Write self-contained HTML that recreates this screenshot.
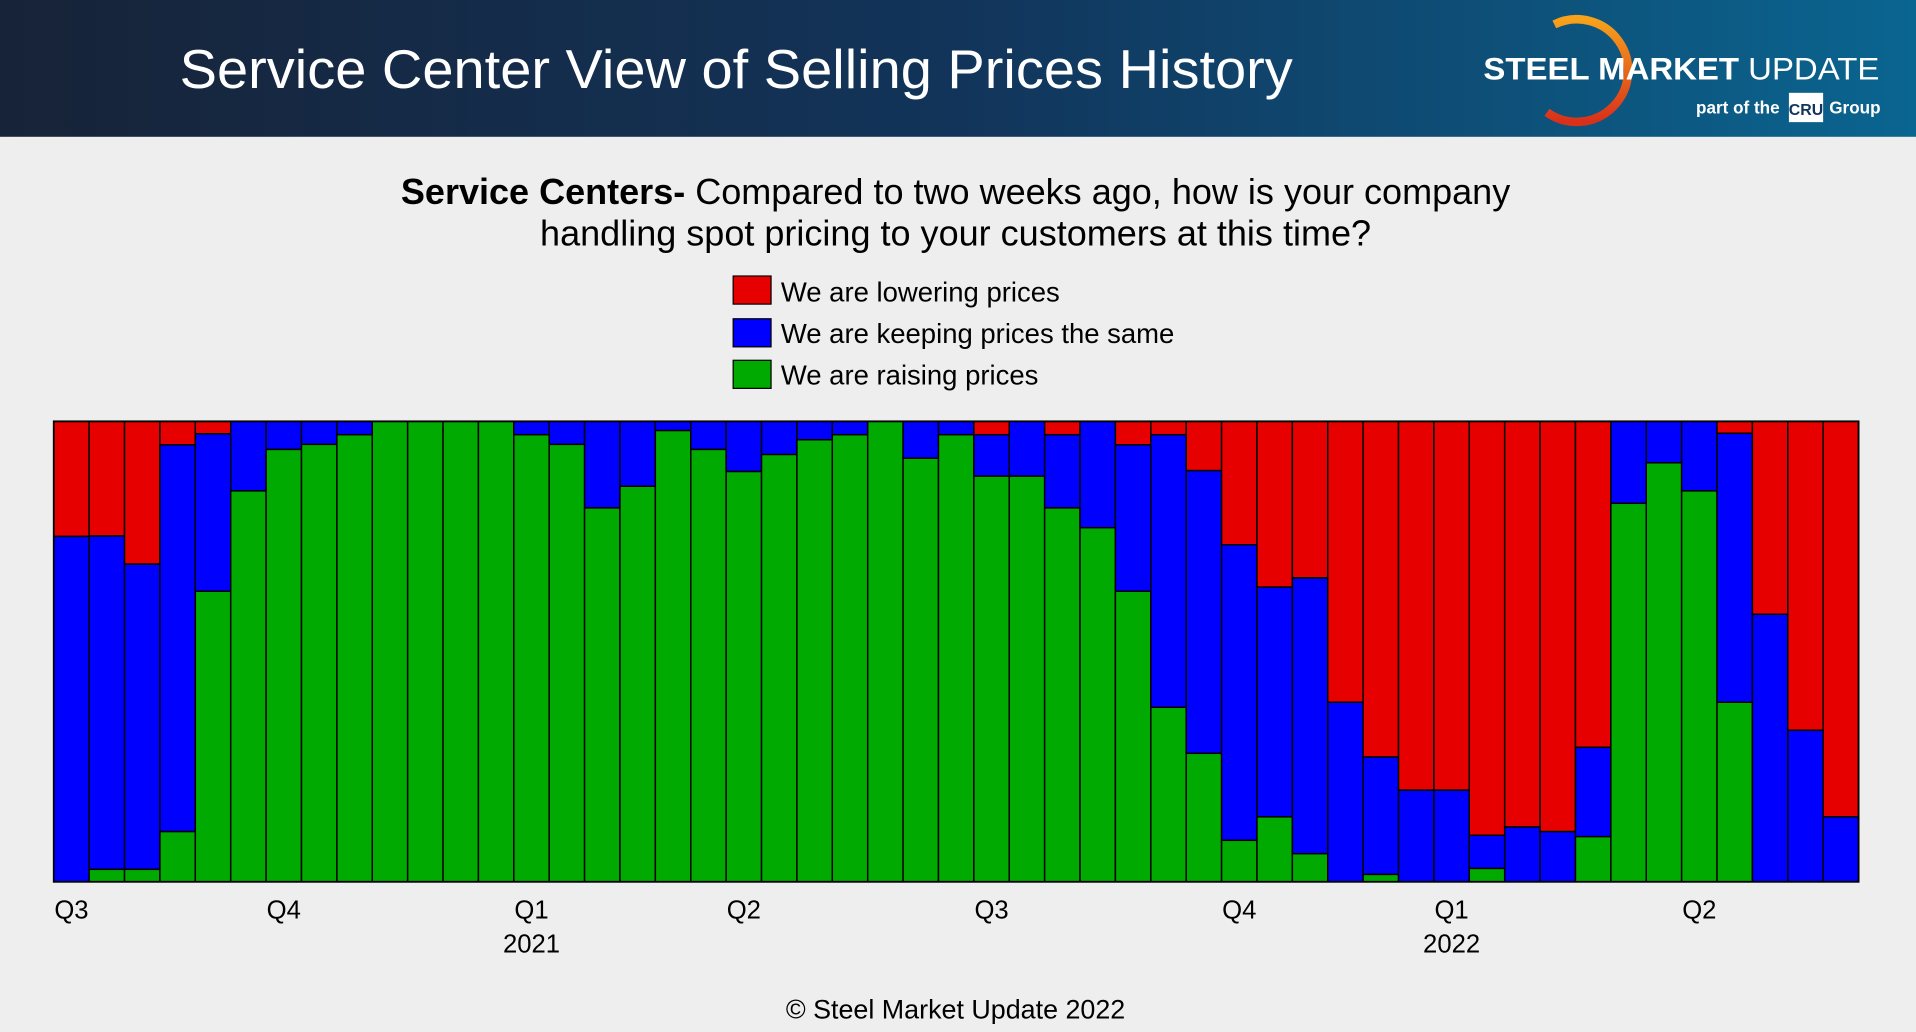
<!DOCTYPE html>
<html><head><meta charset="utf-8">
<style>
html,body{margin:0;padding:0;background:#eeeeee;}
svg{display:block;font-family:"Liberation Sans",Arial,sans-serif;}
</style></head>
<body>
<svg id="chart" width="1916" height="1032" viewBox="0 0 1568 845" preserveAspectRatio="none" xmlns="http://www.w3.org/2000/svg">
<defs>
<linearGradient id="hdr" x1="0" x2="1" y1="0" y2="0">
<stop offset="0" stop-color="#172338"/><stop offset="0.5" stop-color="#12345a"/><stop offset="1" stop-color="#0a6590"/>
</linearGradient>
<linearGradient id="swoosh" x1="0" x2="0" y1="0" y2="1">
<stop offset="0" stop-color="#f7a21b"/><stop offset="1" stop-color="#d9301a"/>
</linearGradient>
</defs>
<rect x="0" y="0" width="1568" height="845" fill="#eeeeee"/>
<rect x="0" y="0" width="1568" height="112" fill="url(#hdr)"/>
<text x="147" y="72" font-size="45" textLength="911" lengthAdjust="spacingAndGlyphs" fill="#ffffff">Service Center View of Selling Prices History</text>
<g>
<path d="M1272 20 A42 42 0 1 1 1266 92" fill="none" stroke="url(#swoosh)" stroke-width="7"/>
<text x="1214" y="65" font-size="26" font-weight="bold" fill="#fff" textLength="324" lengthAdjust="spacingAndGlyphs">STEEL MARKET <tspan font-weight="normal">UPDATE</tspan></text>
<text x="1388" y="93" font-size="14" font-weight="bold" fill="#fff">part of the</text>
<rect x="1464" y="76" width="28" height="24" fill="#fff"/>
<text x="1478" y="94" font-size="13" font-weight="bold" fill="#12345a" text-anchor="middle">CRU</text>
<text x="1497" y="93" font-size="14" font-weight="bold" fill="#fff">Group</text>
</g>
<text x="782" y="167" font-size="29.5" text-anchor="middle" fill="#000"><tspan font-weight="bold">Service Centers-</tspan> Compared to two weeks ago, how is your company</text>
<text x="782" y="201" font-size="29.5" text-anchor="middle" fill="#000">handling spot pricing to your customers at this time?</text>
<g>
<g><rect x="600" y="226" width="31" height="23" fill="#e60000" stroke="#000"/><text x="639" y="247" font-size="22.5">We are lowering prices</text></g>
<g><rect x="600" y="261" width="31" height="23" fill="#0000ff" stroke="#000"/><text x="639" y="281" font-size="22.5">We are keeping prices the same</text></g>
<g><rect x="600" y="295" width="31" height="23" fill="#00aa00" stroke="#000"/><text x="639" y="315" font-size="22.5">We are raising prices</text></g>
</g>
<g id="bars"></g>
<g id="axis"></g>
<text x="782" y="834" font-size="22" text-anchor="middle">© Steel Market Update 2022</text>
</svg>
<script>
const raising = [0,2.7,2.7,10.9,63.1,84.9,93.9,95,97.1,100,100,100,100,97.1,95,81.2,85.9,98,93.9,89.1,92.8,96,97.1,100,92,97.1,88.1,88.1,81.2,76.9,63.1,37.9,27.9,9,14.1,6.1,0,1.6,0,0,2.9,0,0,9.8,82.2,91,84.9,39,0,0,0];
const same = [75,72.4,66.3,84,34.2,15.1,6.1,5,2.9,0,0,0,0,2.9,5,18.8,14.1,2,6.1,10.9,7.2,4,2.9,0,8,2.9,9,11.9,15.9,23.1,31.8,59.2,61.4,64.2,49.9,59.9,39,25.5,19.9,19.9,7.2,11.9,10.9,19.4,17.8,9,15.1,58.4,58.1,32.9,14.1];
const tickIndex = [0,6,13,19,26,33,39,46];
const tickLabels = ["Q3","Q4","Q1","Q2","Q3","Q4","Q1","Q2"];
const yearIndex = [13,39];
const yearLabels = ["2021","2022"];

const X0=44,X1=1521,Y0=345,Y1=722;
const n=raising.length, bw=(X1-X0)/n;
const xs=i=>X0+i*bw;
const ys=p=>Y1-(p/100)*(Y1-Y0);
const NS="http://www.w3.org/2000/svg";
const g=document.getElementById('bars');
function rect(x,y,w,h,fill,name){
  const r=document.createElementNS(NS,'rect');
  r.setAttribute('x',x);r.setAttribute('y',y);r.setAttribute('width',w);r.setAttribute('height',Math.max(0,h));
  r.setAttribute('fill',fill);r.setAttribute('stroke','#000');r.setAttribute('stroke-width','1.2');
  
  
  g.appendChild(r);
}
for(let i=0;i<n;i++){
  const x=xs(i);
  const gt=ys(raising[i]), bt=ys(raising[i]+same[i]);
  rect(x,Y0,bw,bt-Y0,'#e60000','bar-lowering-'+i);
  if(same[i]>0) rect(x,bt,bw,gt-bt,'#0000ff','bar-same-'+i);
  if(raising[i]>0) rect(x,gt,bw,Y1-gt,'#00aa00','bar-raising-'+i);
}
const frame=document.createElementNS(NS,'rect');
frame.setAttribute('x',X0);frame.setAttribute('y',Y0);frame.setAttribute('width',X1-X0);frame.setAttribute('height',Y1-Y0);
frame.setAttribute('fill','none');frame.setAttribute('stroke','#000');frame.setAttribute('stroke-width','1.5');


g.appendChild(frame);
const ax=document.getElementById('axis');
function label(txt,i,y,name){
  const t=document.createElementNS(NS,'text');
  t.setAttribute('x',xs(i)+bw/2);t.setAttribute('y',y);t.setAttribute('font-size','21');t.setAttribute('text-anchor','middle');
  t.textContent=txt;
  
  
  ax.appendChild(t);
}
tickIndex.forEach((ix,k)=>label(tickLabels[k],ix,752,'x-tick-label'));
yearIndex.forEach((ix,k)=>label(yearLabels[k],ix,780,'x-year-label'));
</script>
</body></html>
